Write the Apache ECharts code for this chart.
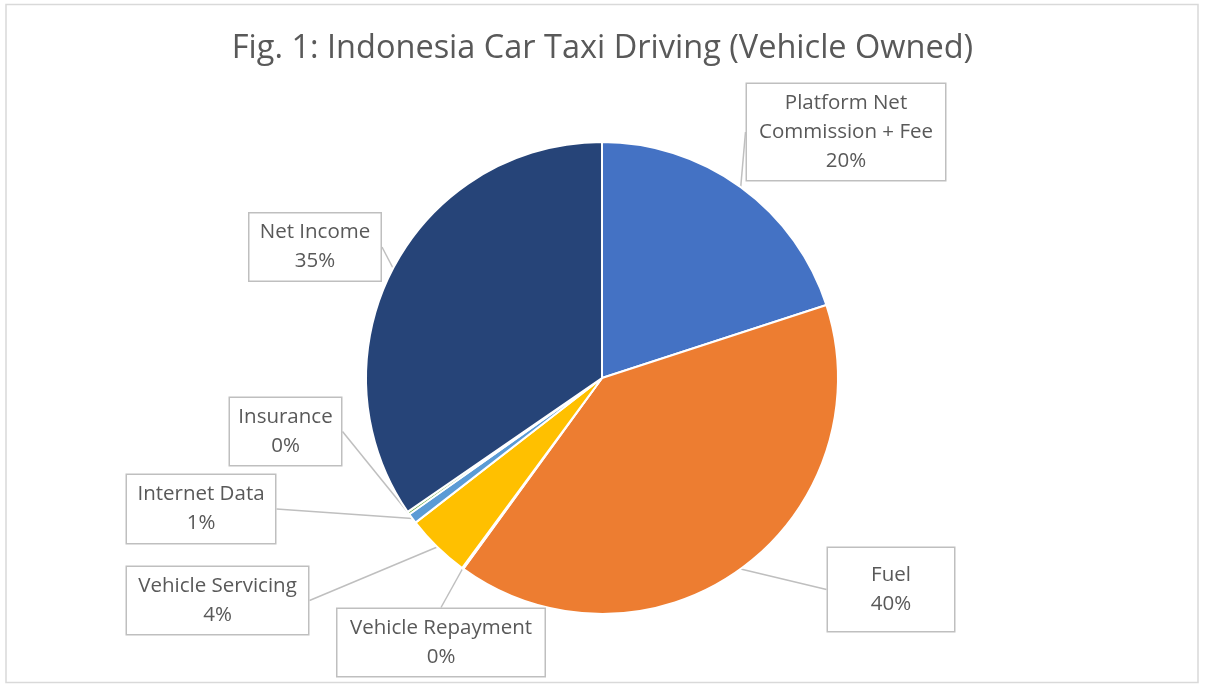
<!DOCTYPE html>
<html><head><meta charset="utf-8">
<script src="https://cdn.jsdelivr.net/npm/echarts@6/dist/echarts.min.js"></script>
<style>html,body{margin:0;padding:0;background:#fff}#c{width:1205px;height:690px}</style>
</head><body><div id="c"></div>
<script>
// ---- data ----
const titleText = 'Fig. 1: Indonesia Car Taxi Driving (Vehicle Owned)';
const categories = ['Platform Net Commission + Fee', 'Fuel', 'Vehicle Repayment', 'Vehicle Servicing', 'Internet Data', 'Insurance', 'Net Income'];
const labelNames = ['Platform Net\nCommission + Fee', 'Fuel', 'Vehicle Repayment', 'Vehicle Servicing', 'Internet Data', 'Insurance', 'Net Income'];
const shares = [20.0, 40.0, 0.1, 4.4, 0.7, 0.2, 34.6];
const sliceColors = ['#4472C4', '#ED7D31', '#A5A5A5', '#FFC000', '#5B9BD5', '#70AD47', '#264478'];

// ---- layout (callout boxes: centerX, centerY, width, height) ----
const callouts = [[846, 132, 198, 96], [891, 589.5, 126, 83], [441, 642.5, 207, 67], [217.5, 600.5, 181, 67], [201, 509, 148, 68], [285.5, 431.5, 111, 67], [315, 247, 131, 67]];
const FONT = '"Open Sans", "Noto Sans", sans-serif';
const LH = 29;

const chart = echarts.init(document.getElementById('c'), null, {renderer: 'canvas'});

const data = categories.map((name, i) => {
  const lines = labelNames[i].split('\n').length + 1;
  const [cx, cy, w, h] = callouts[i];
  const pad = (h - lines * LH) / 2;
  const shift = lines > 2 ? 3 : 5;
  return {
    name: name,
    value: shares[i],
    itemStyle: {color: sliceColors[i]},
    label: {
      width: w,
      padding: [pad + shift, 0, pad - shift, 0]
    }
  };
});

chart.setOption({
  animation: false,
  backgroundColor: '#fff',
  title: {
    text: titleText,
    left: 'center',
    top: 27,
    textStyle: {fontFamily: FONT, fontSize: 32.5, fontWeight: 'normal', color: '#595959'}
  },
  graphic: [{
    type: 'rect', silent: true,
    shape: {x: 6, y: 4.5, width: 1192, height: 678},
    style: {fill: 'none', stroke: '#D9D9D9', lineWidth: 1.5}
  }],
  series: [{
    type: 'pie',
    center: [602, 378],
    radius: 236,
    startAngle: 90,
    clockwise: true,
    avoidLabelOverlap: false,
    data: data,
    itemStyle: {borderColor: '#fff', borderWidth: 2},
    label: {
      show: true,
      position: 'outside',
      overflow: 'none',
      fontFamily: FONT,
      fontSize: 20.5,
      lineHeight: LH,
      color: '#595959',
      align: 'center',
      backgroundColor: '#fff',
      borderColor: '#BFBFBF',
      borderWidth: 1.5,
      formatter: p => labelNames[p.dataIndex] + '\n' + Math.round(p.percent) + '%'
    },
    labelLine: {show: true, length: 8, length2: 0, smooth: false, lineStyle: {color: '#BFBFBF', width: 1.5}},
    labelLayout: p => {
      const c = callouts[p.dataIndex];
      return {x: c[0], y: c[1], align: 'center', verticalAlign: 'middle'};
    },
    emphasis: {disabled: true}
  }]
});
</script></body></html>
